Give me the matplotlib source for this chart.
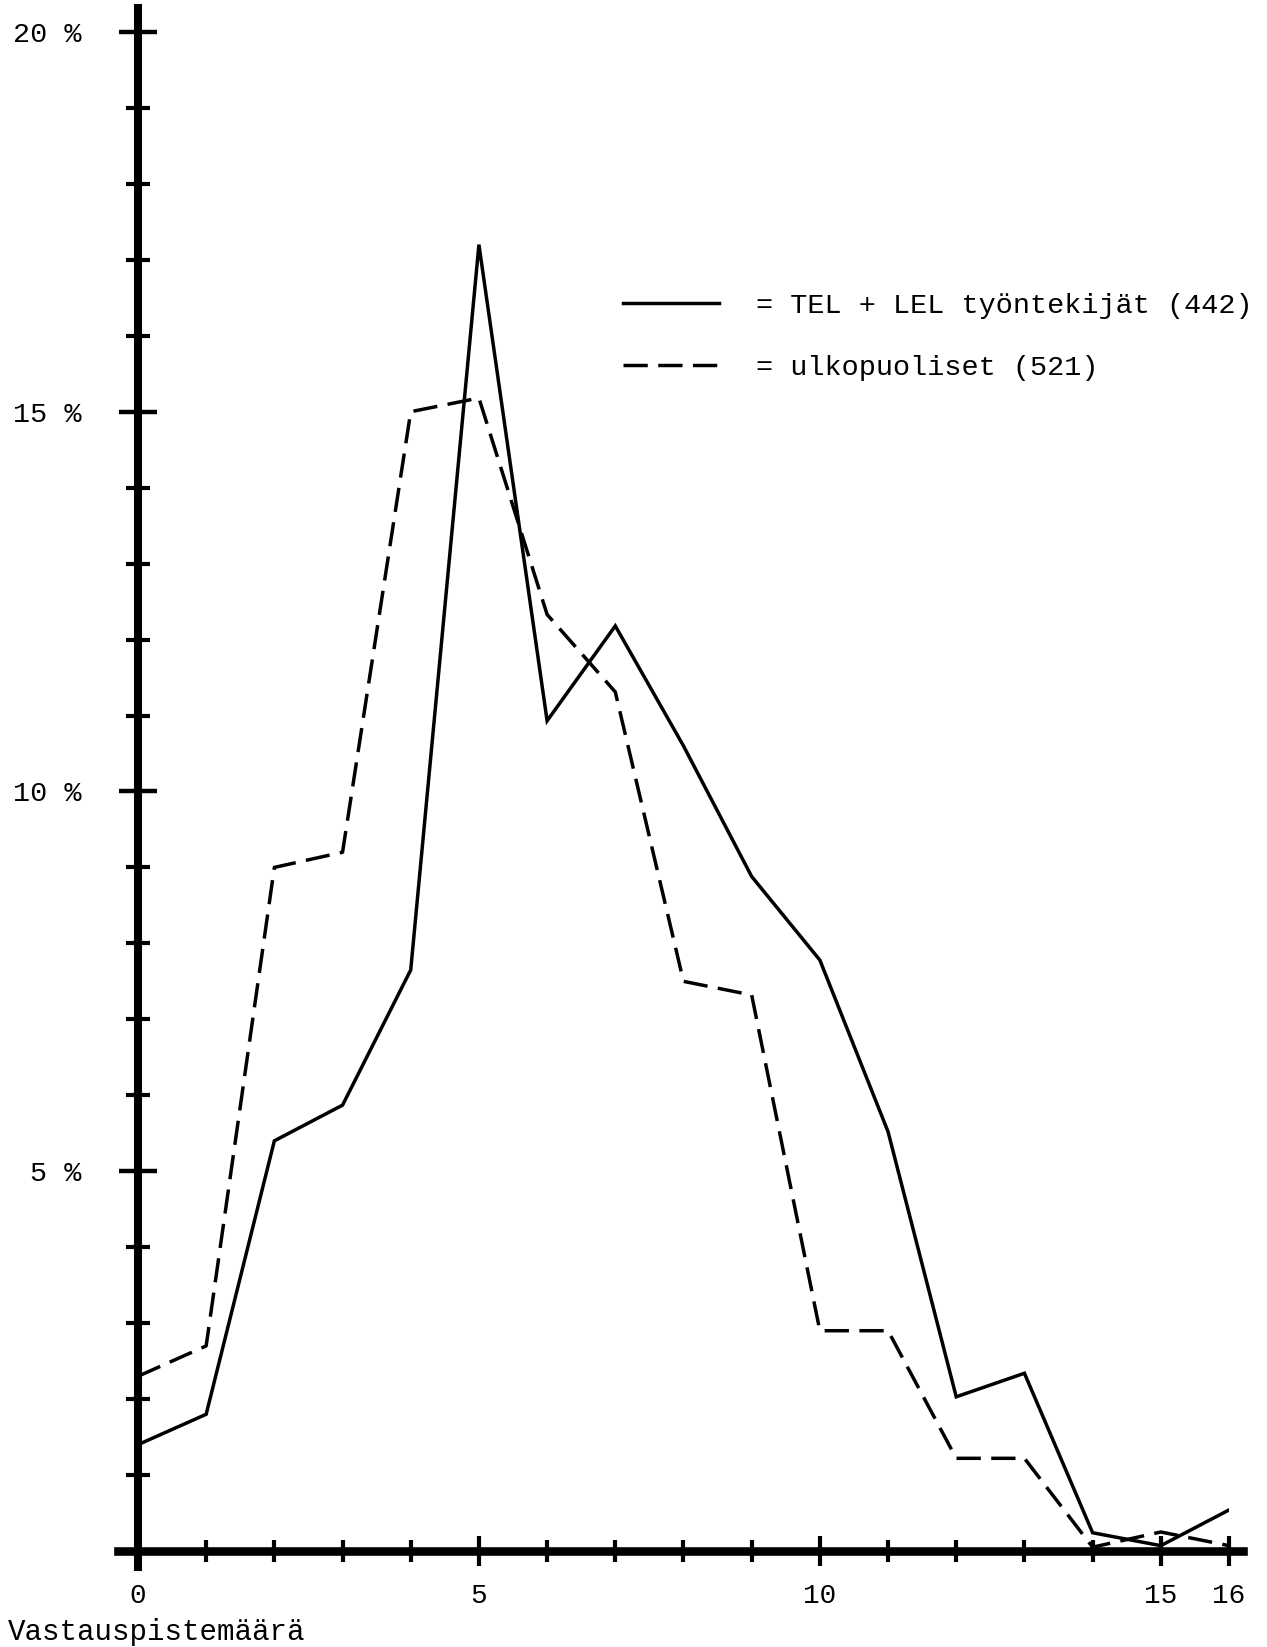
import matplotlib.pyplot as plt
from matplotlib.ticker import FixedLocator, FixedFormatter

# Vastauspistemäärä 0..16
pisteet = list(range(17))

# TEL + LEL työntekijät (442), prosenttia
tyontekijat = [1.4, 1.8, 5.4, 5.87, 7.65, 17.2, 10.93, 12.18, 10.6, 8.88, 7.78,
               5.52, 2.03, 2.34, 0.24, 0.07, 0.54]

# ulkopuoliset (521), prosenttia
ulkopuoliset = [2.3, 2.7, 9.0, 9.2, 15.0, 15.18, 12.33, 11.31, 7.5, 7.32, 2.9,
                2.9, 1.22, 1.22, 0.05, 0.25, 0.07]

x_major = [0, 5, 10, 15, 16]
x_labels = ['0', '5', '10', '15', '16']
y_major = [0, 5, 10, 15, 20]
y_labels = ['', '5 %', '10 %', '15 %', '20 %']

nimi1 = '= TEL + LEL työntekijät (442)'
nimi2 = '= ulkopuoliset (521)'


def kuvio():
    plt.rcParams['font.family'] = ['Liberation Mono', 'DejaVu Sans Mono']

    fig = plt.figure(figsize=(12.67, 16.47), dpi=100)
    ax = fig.add_axes([0.1089, 0.0583, 0.8611, 0.9223])
    ax.set_xlim(0, 16)
    ax.set_ylim(0, 20)

    # Akselit paksuna viivana
    for s in ax.spines.values():
        s.set_visible(False)
    ax.axvline(0, ymin=-0.0105, ymax=1.016, color='black', lw=5.8,
               clip_on=False, zorder=3)
    ax.axhline(0, xmin=-0.018, xmax=1.013, color='black', lw=6.2,
               clip_on=False, zorder=3)

    # Käyrät
    ax.plot(pisteet, tyontekijat, color='black', lw=2.5,
            solid_joinstyle='miter', label=nimi1, zorder=4)
    ax.plot(pisteet, ulkopuoliset, color='black', lw=2.5,
            dashes=(7, 3), label=nimi2, zorder=4)

    # Asteikot
    ax.xaxis.set_major_locator(FixedLocator(x_major))
    ax.xaxis.set_major_formatter(FixedFormatter(x_labels))
    ax.xaxis.set_minor_locator(FixedLocator([p for p in pisteet if p not in x_major]))
    ax.yaxis.set_major_locator(FixedLocator(y_major))
    ax.yaxis.set_major_formatter(FixedFormatter(y_labels))
    ax.yaxis.set_minor_locator(FixedLocator([v for v in range(21) if v not in y_major]))

    ax.tick_params(axis='y', which='major', direction='inout', length=28,
                   width=3.2, pad=27, labelsize=20.5)
    ax.tick_params(axis='y', which='minor', direction='inout', length=17,
                   width=3)
    ax.tick_params(axis='x', which='major', direction='inout', length=22,
                   width=3, pad=12, labelsize=20)
    ax.tick_params(axis='x', which='minor', direction='inout', length=16,
                   width=3)

    # Selite
    ax.legend(loc='upper left', bbox_to_anchor=(0.4917, 0.8222),
              bbox_transform=fig.transFigure, frameon=False, fontsize=20.5,
              handlelength=3.37, handletextpad=1.3, labelspacing=1.27,
              borderpad=0, borderaxespad=0)

    fig.text(8 / 1267, 15 / 1647, 'Vastauspistemäärä', fontsize=21,
             ha='left', va='center')

    plt.savefig('out.png', dpi=100)


if __name__ == '__main__':
    kuvio()
